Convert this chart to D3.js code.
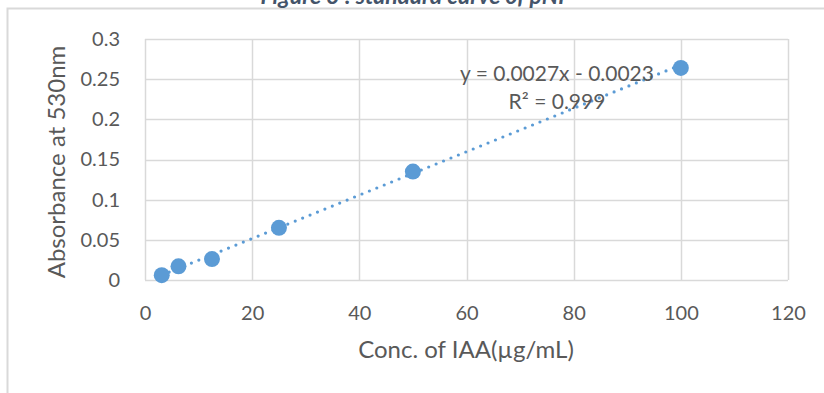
<!DOCTYPE html>
<html><head><meta charset="utf-8">
<script src="https://cdn.jsdelivr.net/npm/d3@7/dist/d3.min.js"></script>
<style>body{margin:0;background:#fff}svg{display:block}</style>
</head><body><svg id="c" width="824" height="393"></svg>
<script>
const concentrations = [3.125, 6.25, 12.5, 25, 50, 100];
const absorbance = [0.006, 0.017, 0.026, 0.065, 0.135, 0.264];
const xTicks = [0, 20, 40, 60, 80, 100, 120];
const yTicks = [0, 0.05, 0.1, 0.15, 0.2, 0.25, 0.3];
const slope = 0.0027, intercept = -0.0023;
const titleText = "Figure 3 : standard curve of pNP";
const xTitle = "Conc. of IAA(\u00b5g/mL)";
const yTitle = "Absorbance at 530nm";
const eqText = "y = 0.0027x - 0.0023";
const r2Text = "R\u00b2 = 0.999";

const svg = d3.select("#c");
const font = "Lato, 'Open Sans', sans-serif";
const x = d3.scaleLinear().domain([0,120]).range([145,788]);
const y = d3.scaleLinear().domain([0,0.3]).range([280,39]);
const grid = "#d9d9d9", blue = "#5b9bd5", txt = "#595959";

// outer frame
svg.append("path").attr("d","M7.5,393 V8.5 H824").attr("fill","none").attr("stroke",grid).attr("stroke-width",2);
// title (cut at top)
svg.append("text").attr("x",416).attr("y",4).attr("text-anchor","middle")
  .attr("font-family",font).attr("font-weight","bold").attr("font-style","italic")
  .attr("font-size",23).attr("fill","#44546a").text(titleText);

// gridlines
svg.append("g").selectAll("line").data(yTicks).join("line")
  .attr("x1",x(0)).attr("x2",x(120)).attr("y1",d=>Math.round(y(d))+0.5).attr("y2",d=>Math.round(y(d))+0.5)
  .attr("stroke",grid).attr("stroke-width",1.5);
svg.append("g").selectAll("line").data(xTicks).join("line")
  .attr("y1",y(0)).attr("y2",y(0.3)).attr("x1",d=>Math.round(x(d))+0.5).attr("x2",d=>Math.round(x(d))+0.5)
  .attr("stroke",grid).attr("stroke-width",1.5);

// axes labels via d3 axes
const xAxis = svg.append("g").attr("transform",`translate(0,${y(0)+23})`)
  .call(d3.axisBottom(x).tickValues(xTicks).tickSize(0).tickFormat(d3.format("d")));
xAxis.select(".domain").remove();
xAxis.selectAll("text").attr("font-family",font).attr("font-size",20).attr("fill",txt);
const yAxis = svg.append("g").attr("transform",`translate(${x(0)-22},0)`)
  .call(d3.axisLeft(y).tickValues(yTicks).tickSize(0).tickFormat(d=>String(+d.toFixed(2))));
yAxis.select(".domain").remove();
yAxis.selectAll("text").attr("font-family",font).attr("font-size",20).attr("fill",txt);

// axis titles
svg.append("text").attr("x",466).attr("y",358).attr("text-anchor","middle")
  .attr("font-family",font).attr("font-size",24).attr("fill",txt).text(xTitle);
svg.append("text").attr("transform","translate(65,162) rotate(-90)").attr("text-anchor","middle")
  .attr("font-family",font).attr("font-size",24).attr("fill",txt).text(yTitle);

// trendline
const xs = [concentrations[0], concentrations[concentrations.length-1]];
svg.append("line").attr("x1",x(xs[0])).attr("y1",y(slope*xs[0]+intercept))
  .attr("x2",x(xs[1])).attr("y2",y(slope*xs[1]+intercept))
  .attr("stroke",blue).attr("stroke-width",3.2).attr("stroke-linecap","round").attr("stroke-dasharray","0 8");

// points
svg.append("g").selectAll("circle").data(concentrations).join("circle")
  .attr("cx",d=>x(d)).attr("cy",(d,i)=>y(absorbance[i])).attr("r",8).attr("fill",blue);

// equation
svg.append("text").attr("x",557).attr("y",81).attr("text-anchor","middle")
  .attr("font-family",font).attr("font-size",21).attr("fill",txt).text(eqText);
svg.append("text").attr("x",557).attr("y",109).attr("text-anchor","middle")
  .attr("font-family",font).attr("font-size",21).attr("fill",txt).text(r2Text);
</script></body></html>
